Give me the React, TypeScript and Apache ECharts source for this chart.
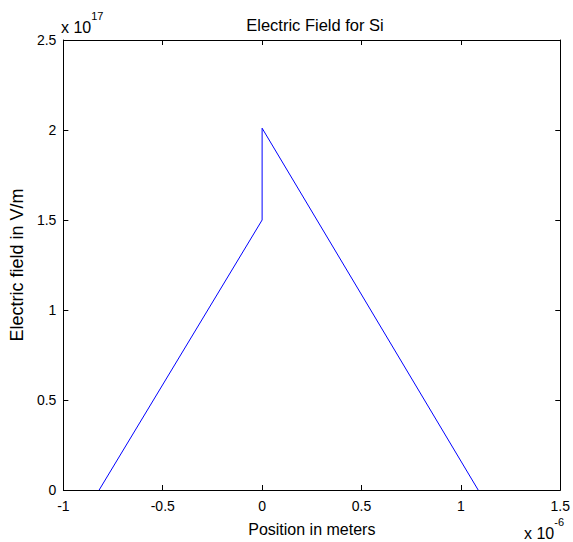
import React, { useEffect, useRef } from "react";
import * as echarts from "echarts";

// Position (x 10^-6 m) and electric field (x 10^17 V/m)
const positions = [-0.82, 0, 0, 1.087];
const fieldValues = [0, 1.5, 2.01, 0];
const xTicks = [-1, -0.5, 0, 0.5, 1, 1.5];
const yTicks = [0, 0.5, 1, 1.5, 2, 2.5];

const FONT = "Liberation Sans, Arial, sans-serif";

export default function App() {
  const ref = useRef<HTMLDivElement>(null);
  useEffect(() => {
    if (!ref.current) return;
    const chart = echarts.init(ref.current, null, { renderer: "svg" });
    const axisCommon = {
      axisLine: { show: true, onZero: false, lineStyle: { color: "#000", width: 1 } },
      axisTick: { show: true, inside: true, length: 5, lineStyle: { color: "#000" } },
      splitLine: { show: false },
    };
    const sup = {
      b: { fontFamily: FONT, fontSize: 16, fill: "#000", verticalAlign: "bottom", padding: [9, 0, 0, 0] },
      s: { fontFamily: FONT, fontSize: 11, fill: "#000", verticalAlign: "top" },
    };
    chart.setOption({
      animation: false,
      backgroundColor: "#fff",
      title: {
        text: "Electric Field for Si",
        left: 310,
        top: 11,
        textAlign: "center",
        textStyle: { fontFamily: FONT, fontSize: 16.5, fontWeight: "normal", color: "#000" },
      },
      grid: { left: 61, top: 40, right: 11, bottom: 50 },
      xAxis: [
        {
          type: "value",
          min: xTicks[0],
          max: xTicks[xTicks.length - 1],
          interval: 0.5,
          position: "bottom",
          ...axisCommon,
          axisLabel: { color: "#000", fontFamily: FONT, fontSize: 14, margin: 9 },
          name: "Position in meters",
          nameLocation: "middle",
          nameGap: 31,
          nameTextStyle: { color: "#000", fontFamily: FONT, fontSize: 16 },
        },
        {
          type: "value",
          min: xTicks[0],
          max: xTicks[xTicks.length - 1],
          interval: 0.5,
          position: "top",
          ...axisCommon,
          axisLabel: { show: false },
        },
      ],
      yAxis: [
        {
          type: "value",
          min: yTicks[0],
          max: yTicks[yTicks.length - 1],
          interval: 0.5,
          position: "left",
          ...axisCommon,
          axisLabel: { color: "#000", fontFamily: FONT, fontSize: 14, margin: 7 },
          name: "Electric field in V/m",
          nameLocation: "middle",
          nameGap: 34,
          nameRotate: 90,
          nameTextStyle: { color: "#000", fontFamily: FONT, fontSize: 18 },
        },
        {
          type: "value",
          min: yTicks[0],
          max: yTicks[yTicks.length - 1],
          interval: 0.5,
          position: "right",
          ...axisCommon,
          axisLabel: { show: false },
        },
      ],
      series: [
        {
          type: "line",
          data: positions.map((p, i) => [p, fieldValues[i]]),
          showSymbol: false,
          symbol: "none",
          lineStyle: { color: "#0000ff", width: 1 },
          xAxisIndex: 0,
          yAxisIndex: 0,
        },
      ],
      graphic: [
        {
          type: "text",
          left: 61,
          top: 10,
          style: { text: "{b|x 10}{s|17}", rich: sup },
        },
        {
          type: "text",
          left: 524,
          top: 516,
          style: { text: "{b|x 10}{s|-6}", rich: sup },
        },
      ],
    });
    return () => chart.dispose();
  }, []);
  return (
    <div
      ref={ref}
      style={{ position: "fixed", left: 0, top: 0, width: 573, height: 542 }}
    />
  );
}
